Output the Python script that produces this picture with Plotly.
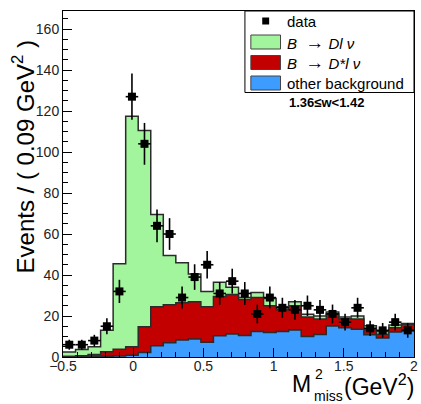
import numpy as np
import plotly.graph_objects as go

# ---- data (28 bins from -0.5 to 2.0 GeV^2) ----
x_lo, x_hi, n_bins = -0.5, 2.0, 28
data_counts = [6, 6, 8, 15, 32, 127, 104, 64, 60, 29, 39, 45, 31, 37, 31, 21, 29, 24,
               23, 25, 23, 21, 17, 24, 14, 13, 17, 13]
# cumulative stack tops
total_fit = [2.5, 3.7, 5.0, 13.0, 45.5, 117.5, 110.5, 69.5, 49.5, 46.0, 40.5, 32.0, 36.5, 34.0,
             29.0, 31.5, 28.5, 24.5, 27.0, 20.8, 20.0, 22.0, 19.5, 20.0, 15.2, 12.5, 15.6, 16.3]
dstar_plus_bkg = [0.3, 0.6, 1.2, 2.6, 3.8, 5.0, 14.8, 24.5, 25.5, 26.5, 27.0, 24.5, 29.5, 30.5,
                  28.0, 29.0, 25.0, 23.0, 25.0, 19.5, 18.5, 21.0, 18.7, 18.5, 13.3, 11.1, 14.3, 16.0]
other_bkg = [0.2, 0.2, 0.3, 0.4, 0.5, 0.8, 2.2, 5.5, 7.0, 8.3, 8.8, 7.2, 10.4, 11.2,
             10.5, 12.4, 12.0, 12.5, 13.2, 10.0, 11.0, 15.1, 14.3, 13.5, 10.8, 9.3, 12.2, 12.7]

edges = np.linspace(x_lo, x_hi, n_bins + 1)
centers = 0.5 * (edges[:-1] + edges[1:])
half_w = 0.5 * (edges[1] - edges[0])

GREEN = "#a2f59c"
RED = "#c20000"
BLUE = "#3d9cff"
LINE = "#2b2b2b"
FONT = "Liberation Sans, Arial, sans-serif"

def step_trace(vals, color):
    yv = list(vals) + [vals[-1]]
    return go.Scatter(x=edges, y=yv, mode="lines", line=dict(shape="hv", color=LINE, width=1.5),
                      fill="tozeroy", fillcolor=color, hoverinfo="skip", showlegend=False)

fig = go.Figure()
fig.add_trace(step_trace(total_fit, GREEN))
fig.add_trace(step_trace(dstar_plus_bkg, RED))
fig.add_trace(step_trace(other_bkg, BLUE))
fig.add_trace(go.Scatter(
    x=centers, y=data_counts, mode="markers",
    marker=dict(symbol="square", size=8, color="black"),
    error_y=dict(type="data", array=np.sqrt(data_counts), color="black", thickness=1.6, width=0),
    error_x=dict(type="constant", value=half_w, color="black", thickness=1.6, width=0),
    showlegend=False))

W, H = 421, 404
L, R, T, B = 63, 418, 11, 357

def px(xp):
    return (xp - L) / (R - L)

def py(yp):
    return (B - yp) / (B - T)

shapes = []
annotations = []
# legend box
shapes.append(dict(type="rect", xref="paper", yref="paper", x0=px(247), x1=1.0, y0=py(92.5), y1=1.0,
                   fillcolor="white", line=dict(color="black", width=1), layer="above"))
# data marker in legend
shapes.append(dict(type="rect", xref="paper", yref="paper", x0=px(264.5), x1=px(271.5),
                   y0=py(24.5), y1=py(17.5), fillcolor="black", line=dict(width=0), layer="above"))
for (y0, y1, col) in [(35, 49, GREEN), (55.5, 69.5, RED), (76, 90, BLUE)]:
    shapes.append(dict(type="rect", xref="paper", yref="paper", x0=px(253), x1=px(283),
                       y0=py(y1), y1=py(y0), fillcolor=col, line=dict(color="#444", width=1), layer="above"))

ARROW = "<span style='font-size:19px'>→</span>"
leg_texts = [("data", 21),
             ("<i>B</i>  " + ARROW + " <i>Dl ν</i>", 42),
             ("<i>B</i>  " + ARROW + " <i>D*l ν</i>", 62.5),
             ("other background", 83)]
for t, yy in leg_texts:
    annotations.append(dict(text=t, xref="paper", yref="paper", x=px(288), y=py(yy), xanchor="left",
                            yanchor="middle", showarrow=False, font=dict(size=15, family=FONT, color="black")))

annotations.append(dict(text="<b>1.36≤w<1.42</b>", xref="paper", yref="paper", x=px(330), y=py(103),
                        xanchor="center", yanchor="middle", showarrow=False,
                        font=dict(size=13, family=FONT, color="black")))

# axis titles
annotations.append(dict(text="Events / ( 0.09 GeV<sup>2</sup> )", xref="paper", yref="paper",
                        x=px(23), y=py(157), xanchor="center", yanchor="middle", textangle=-90,
                        showarrow=False, font=dict(size=24, family=FONT, color="black")))
annotations.append(dict(text="M", xref="paper", yref="paper", x=px(316), y=py(384), xanchor="right",
                        yanchor="middle", showarrow=False, font=dict(size=23, family=FONT, color="black")))
annotations.append(dict(text="2", xref="paper", yref="paper", x=px(316), y=py(374), xanchor="left",
                        yanchor="middle", showarrow=False, font=dict(size=14, family=FONT, color="black")))
annotations.append(dict(text="miss", xref="paper", yref="paper", x=px(315), y=py(396), xanchor="left",
                        yanchor="middle", showarrow=False, font=dict(size=14, family=FONT, color="black")))
annotations.append(dict(text="(GeV<sup>2</sup>)", xref="paper", yref="paper", x=px(420), y=py(385),
                        xanchor="right", yanchor="middle", showarrow=False,
                        font=dict(size=23, family=FONT, color="black")))

fig.update_layout(
    width=W, height=H,
    margin=dict(l=L, r=W - R, t=T, b=H - B, pad=0),
    plot_bgcolor="white", paper_bgcolor="white",
    shapes=shapes, annotations=annotations,
    font=dict(family=FONT, color="#222", size=14),
    xaxis=dict(range=[x_lo, x_hi], showgrid=False, zeroline=False, showline=True, mirror=True,
               linecolor="black", linewidth=1, ticks="inside", ticklen=9, tickwidth=1, tickcolor="black",
               tick0=0, dtick=0.5, tickfont=dict(size=14, family=FONT, color="#222"),
               ticklabeloverflow="allow", ticklabelstandoff=-4,
               minor=dict(dtick=0.1, ticks="inside", ticklen=5, tickcolor="black", showgrid=False)),
    yaxis=dict(range=[0, 168.8], showgrid=False, zeroline=False, showline=True, mirror=True,
               linecolor="black", linewidth=1, ticks="inside", ticklen=9, tickwidth=1, tickcolor="black",
               tick0=0, dtick=20, tickfont=dict(size=14, family=FONT, color="#222"),
               ticklabeloverflow="allow",
               minor=dict(dtick=5, ticks="inside", ticklen=5, tickcolor="black", showgrid=False)),
)

fig.write_html("out.html", config={"displayModeBar": False},
               post_script="document.body.style.margin='0px';document.body.style.overflow='hidden';")
